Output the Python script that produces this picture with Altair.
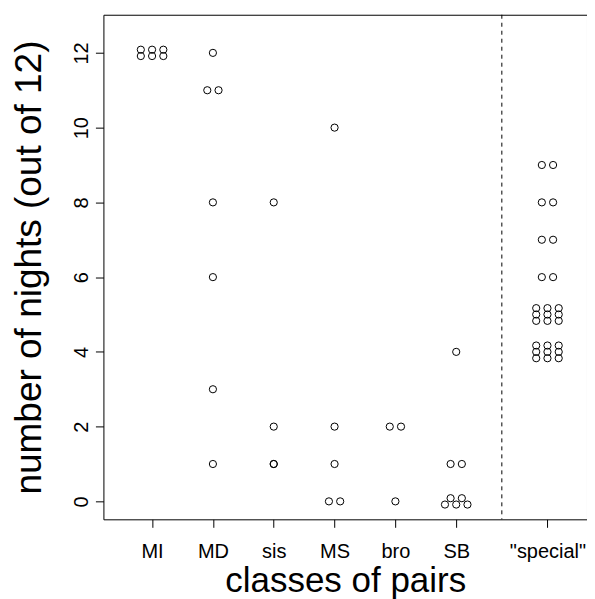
import math
import altair as alt
import pandas as pd

# ---- data ----
groups = ["MI", "MD", "sis", "MS", "bro", "SB", '"special"']
group_pos = [1, 2, 3, 4, 5, 6, 7.5]
nights = {
    "MI": [12, 12, 12, 12, 12, 12],
    "MD": [12, 11, 11, 8, 6, 3, 1],
    "sis": [8, 2, 1],
    "MS": [10, 2, 1, 0, 0],
    "bro": [2, 2, 0],
    "SB": [4, 1, 1, 0, 0, 0, 0, 0],
    '"special"': [9, 9, 8, 8, 7, 7, 6, 6] + [5] * 9 + [4] * 9,
}
overlaid = {"sis": [1]}          # points drawn twice on the same spot
y_ticks = [0, 2, 4, 6, 8, 10, 12]
divider = 6.75

# ---- swarm-like layout of tied values (data units) ----
COL = 0.185
ROW = 0.17


def offsets(n):
    if n <= 2:
        rows = [n]
    else:
        k = math.ceil(n / 3)
        rows = [3] * (k - 1) + [n - 3 * (k - 1)]
    out = []
    k = len(rows)
    for i, m in enumerate(rows):
        dy = (i - (k - 1) / 2) * ROW
        for j in range(m):
            dx = (j - (m - 1) / 2) * COL
            out.append((dx, dy))
    return out


records = []
for g, pos in zip(groups, group_pos):
    vals = nights[g]
    for v in sorted(set(vals)):
        n = vals.count(v)
        for dx, dy in offsets(n):
            records.append({"group": g, "nights": v, "px": pos + dx, "py": v + dy})
    for v in overlaid.get(g, []):
        records.append({"group": g, "nights": v, "px": pos, "py": v})
df = pd.DataFrame(records)

label_map = "{" + ",".join(f"'{p}': '{g}'" for g, p in zip(groups, group_pos)) + "}"
label_expr = f"{label_map}[toString(datum.value)]"

FONT = "Liberation Sans"

points = alt.Chart(df).mark_point(
    shape="circle", filled=False, size=52, strokeWidth=1, color="black", opacity=1
).encode(
    x=alt.X(
        "px:Q",
        scale=alt.Scale(domain=[0.2, 8.15], nice=False, zero=False),
        axis=alt.Axis(
            values=group_pos,
            labelExpr=label_expr,
            title="classes of pairs",
            domain=False,
            grid=False,
            ticks=True,
            tickSize=8,
            tickColor="black",
            tickWidth=1,
            labelFont=FONT,
            labelFontSize=20,
            labelColor="black",
            labelPadding=14,
            labelOverlap=False,
            titleFont=FONT,
            titleFontSize=35,
            titleFontWeight="normal",
            titleColor="black",
            titleY=72,
            titleBaseline="alphabetic",
        ),
    ),
    y=alt.Y(
        "py:Q",
        scale=alt.Scale(domain=[-0.48, 13.02], nice=False, zero=False),
        axis=alt.Axis(
            values=y_ticks,
            title="number of nights (out of 12)",
            domain=False,
            grid=False,
            ticks=True,
            tickSize=8,
            tickColor="black",
            tickWidth=1,
            labelFont=FONT,
            labelFontSize=20,
            labelColor="black",
            labelAngle=270,
            labelAlign="center",
            labelBaseline="bottom",
            labelPadding=4,
            titleFont=FONT,
            titleFontSize=37,
            titleFontWeight="normal",
            titleColor="black",
            titleAngle=270,
            titleX=-63,
            titleY=252.5,
            titleAlign="center",
            titleBaseline="alphabetic",
        ),
    ),
)

rule = alt.Chart(pd.DataFrame({"x": [divider]})).mark_rule(
    color="black", strokeDash=[4, 4], strokeWidth=1
).encode(x=alt.datum(divider))

chart = (
    alt.layer(points, rule)
    .properties(
        width=484,
        height=505,
        padding={"left": 95.5, "top": 6.5, "right": 0, "bottom": 80},
        autosize=alt.AutoSizeParams(type="none"),
    )
    .configure(background="white")
    .configure_view(stroke="black", strokeWidth=1)
)

chart.save("out.html", embed_options={"renderer": "svg", "actions": False})
